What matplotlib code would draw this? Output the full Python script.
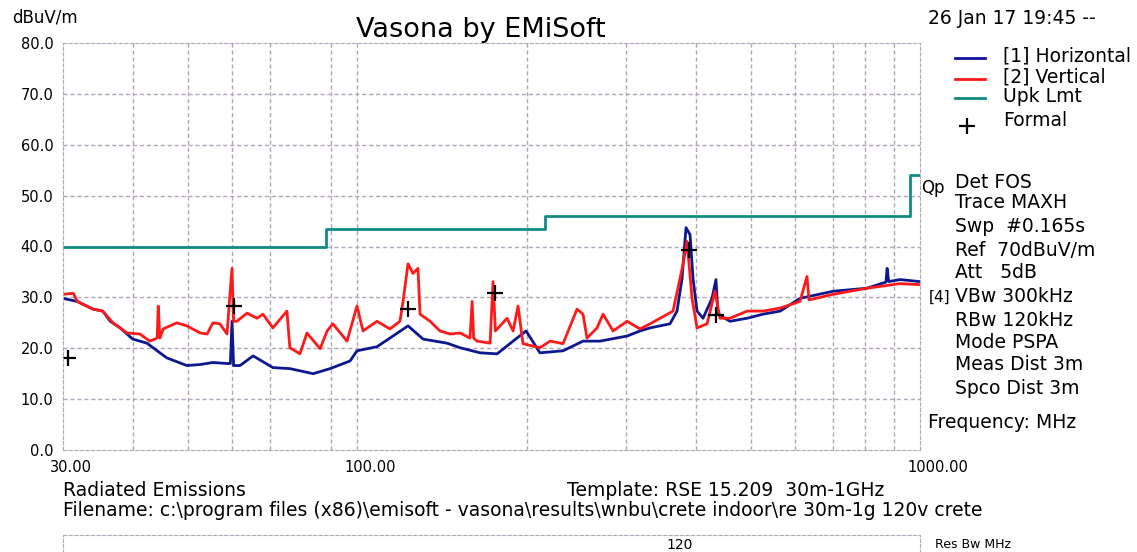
import numpy as np
import matplotlib.pyplot as plt
import matplotlib.transforms as mtransforms

plt.rcParams["font.family"] = ["DejaVu Sans"]

# Horizontal polarisation trace (MHz, dBuV/m)
h_freq = [30.0, 31.8, 33.9, 35.3, 36.4, 37.9, 39.9, 42.3, 44.1, 45.9, 49.8, 52.6,
          55.4, 58.7, 59.5, 59.9, 60.3, 61.9, 65.3, 70.8, 75.9, 83.5, 89.5, 97.1,
          99.9, 108.4, 114.3, 123.1, 130.9, 144.4, 152.3, 165.3, 177.2, 189.2,
          199.5, 211.2, 232.1, 251.9, 270.0, 301.6, 318.1, 331.3, 359.5, 370.0,
          377.7, 383.9, 390.3, 395.1, 401.6, 411.6, 426.9, 434.0, 437.5, 459.6,
          493.0, 526.2, 564.1, 611.9, 700.5, 805.0, 870.0, 874.0, 880.0, 921.6, 1000.0]
h_level = [29.8, 29.2, 27.7, 27.3, 25.3, 24.0, 21.8, 21.0, 19.5, 18.1, 16.6, 16.8,
           17.2, 17.0, 17.0, 25.3, 16.6, 16.6, 18.5, 16.2, 16.0, 15.0, 16.0, 17.5,
           19.5, 20.3, 22.0, 24.4, 21.8, 21.0, 20.1, 19.1, 18.9, 21.4,
           23.4, 19.1, 19.5, 21.4, 21.4, 22.4, 23.4, 24.0, 24.8, 27.3,
           33.7, 43.7, 42.3, 33.7, 27.3, 25.9, 29.8, 33.5, 26.7, 25.3,
           25.9, 26.7, 27.3, 29.8, 31.2, 31.8, 33.0, 35.7, 33.1, 33.5, 33.1]

# Vertical polarisation trace
v_freq = [30.0, 31.3, 31.8, 33.9, 35.3, 36.8, 39.0, 41.1, 42.8, 44.1, 44.3, 44.6,
          45.2, 47.8, 49.8, 52.6, 54.1, 55.4, 57.0, 58.7, 59.4, 59.9, 60.3, 61.1,
          63.7, 66.4, 68.0, 70.8, 75.0, 75.9, 79.1, 81.4, 85.9, 88.4, 90.5, 95.9,
          99.9, 102.4, 108.4, 114.3, 119.1, 120.6, 123.1, 125.6, 128.2, 129.3,
          134.7, 140.3, 146.2, 152.3, 158.6, 160.0, 161.0, 163.3, 172.2, 174.3,
          176.0, 184.6, 189.2, 193.1, 197.0, 211.2, 220.1, 232.1, 245.8, 251.9,
          256.0, 266.7, 273.4, 284.8, 301.6, 318.1, 331.3, 364.0, 379.2, 385.5,
          393.5, 401.6, 418.4, 432.2, 441.2, 459.6, 493.0, 526.2, 564.1, 611.9,
          629.8, 635.0, 700.5, 805.0, 921.6, 1000.0]
v_level = [30.6, 30.8, 29.2, 27.7, 27.3, 25.0, 23.0, 22.8, 21.4, 22.0, 28.3, 22.0,
           23.8, 25.0, 24.4, 23.0, 22.8, 25.0, 24.8, 22.8, 30.6, 35.7, 25.3, 25.3,
           26.9, 25.9, 26.7, 24.0, 27.3, 20.1, 18.9, 23.0, 19.9, 23.4, 24.8, 21.4,
           28.3, 23.4, 25.3, 23.8, 25.3, 29.2, 36.6, 34.7, 35.7, 26.7,
           25.3, 23.4, 22.8, 23.0, 22.0, 29.2, 22.0, 21.4, 21.0, 33.1,
           23.4, 25.9, 23.4, 28.3, 20.9, 20.1, 21.4, 20.9, 27.7, 26.7,
           22.0, 24.0, 26.7, 23.4, 25.3, 23.8, 24.8, 27.3, 36.5, 41.0,
           29.8, 24.0, 24.8, 31.2, 25.9, 25.9, 27.3, 27.3, 27.9, 29.2,
           34.1, 29.5, 30.6, 31.8, 32.7, 32.5]

# Upk limit (steps)
lim_freq = [30, 88, 216, 960, 1000]
lim_level = [40, 43.5, 46, 54, 54]

# Formal measurement points
formal_freq = [30.6, 60.4, 123.0, 175.8, 388.0, 434.0]
formal_level = [18.1, 28.3, 27.7, 30.8, 39.4, 26.5]

info_lines = ["Det FOS", "Trace MAXH", "Swp  #0.165s", "Ref  70dBuV/m", "Att   5dB",
              "VBw 300kHz", "RBw 120kHz", "Mode PSPA", "Meas Dist 3m", "Spco Dist 3m"]
info_y = [182, 202, 227, 250, 272, 297, 320, 343, 364, 388]

fig = plt.figure(figsize=(11.37, 5.52), dpi=100)
W, H = 1137, 552
ax = fig.add_axes([63 / W, 1 - 450 / H, (920 - 63) / W, (450 - 43) / H])

grid_c = "#b4a4bc"
ax.set_xscale("log")
ax.set_xlim(30, 1000)
ax.set_ylim(0, 80)
gx = [40, 50, 60, 70, 90, 100, 200, 300, 400, 500, 600, 700, 800, 900]
for g in gx:
    ax.axvline(g, color=grid_c, lw=1, ls=(0, (3, 2)), zorder=0)
for g in range(10, 80, 10):
    ax.axhline(g, color=grid_c, lw=1, ls=(0, (3, 2)), zorder=0)
for s in ax.spines.values():
    s.set_color(grid_c)
    s.set_linestyle((0, (3, 2)))

ax.set_yticks(range(0, 81, 10))
ax.set_yticklabels([f"{v:.1f}" for v in range(0, 81, 10)], fontsize=10.5)
ax.set_xticks([30, 100, 1000])
ax.set_xticks([], minor=True)
ax.set_xticklabels(["30.00", "100.00", "1000.00"], fontsize=10.5)
ax.tick_params(length=0, pad=7)
offset = mtransforms.ScaledTranslation(-0.13, 0, fig.dpi_scale_trans)
for lbl in ax.get_xticklabels():
    lbl.set_horizontalalignment("left")
    lbl.set_transform(lbl.get_transform() + offset)

ax.plot(lim_freq, lim_level, drawstyle="steps-post", color="#108c84", lw=2)
ax.plot(h_freq, h_level, color="#0c1890", lw=2)
ax.plot(v_freq, v_level, color="#ff1a1a", lw=2)
ax.plot(formal_freq, formal_level, "+", color="black", ms=11, mew=1.6)

# texts in pixel positions
def t(x, y, s, size=13.5, **kw):
    fig.text(x / W, 1 - y / H, s, fontsize=size, va="center", **kw)

t(12, 18, "dBuV/m", 12)
t(481, 30, "Vasona by EMiSoft", 19.5, ha="center")
t(928, 18, "26 Jan 17 19:45 --", 13.5)

leg = [("[1] Horizontal", "#1010a0", 58), ("[2] Vertical", "#ff1a1a", 79),
       ("Upk Lmt", "#108c84", 98)]
for name, col, y in leg:
    fig.add_artist(plt.Line2D([955 / W, 985 / W], [1 - y / H, 1 - y / H], color=col, lw=2))
    t(1003, y - 2, name, 13.5)
fig.add_artist(plt.Line2D([967 / W], [1 - 126 / H], marker="+", color="black", ms=11, mew=1.6))
t(1003, 121, "Formal", 13.5)

t(921, 188, "Qp", 12)
for s, y in zip(info_lines, info_y):
    t(955, y, s, 13.5)
t(929, 297, "[4]", 11)
t(928, 422, "Frequency: MHz", 13.5)

t(63, 490, "Radiated Emissions", 13.5)
t(567, 490, "Template: RSE 15.209  30m-1GHz", 13.5)
t(63, 511, "Filename: c:\\program files (x86)\\emisoft - vasona\\results\\wnbu\\crete indoor\\re 30m-1g 120v crete", 13.5)

# lower panel (cut off)
ax2 = fig.add_axes([63 / W, -0.1, (920 - 63) / W, 0.1 + 1 - 535 / H])
ax2.set_xticks([])
ax2.set_yticks([])
for s in ax2.spines.values():
    s.set_color(grid_c)
    s.set_linestyle((0, (3, 2)))
t(680, 545, "120", 10, ha="center")
t(935, 545, "Res Bw MHz", 9)

fig.savefig("out.png", dpi=100)
